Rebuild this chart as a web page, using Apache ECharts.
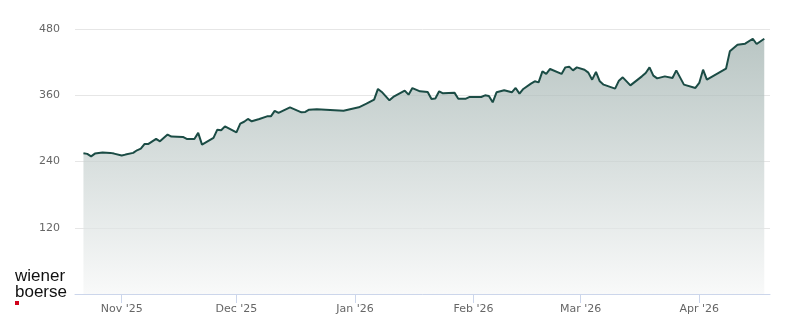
<!DOCTYPE html>
<html>
<head>
<meta charset="utf-8">
<script src="https://cdn.jsdelivr.net/npm/echarts@6/dist/echarts.min.js"></script>
<style>
html,body{margin:0;padding:0;background:#fff;}
#c{width:800px;height:324px;}
</style>
</head>
<body>
<div id="c"></div>
<script>
// ---- data ----
var dates = [
 '2025-10-22','2025-10-23','2025-10-24','2025-10-25','2025-10-27','2025-10-29','2025-10-30',
 '2025-11-01','2025-11-02','2025-11-04','2025-11-05','2025-11-06','2025-11-07','2025-11-08',
 '2025-11-10','2025-11-11','2025-11-13','2025-11-14','2025-11-17','2025-11-18','2025-11-20',
 '2025-11-21','2025-11-22','2025-11-25','2025-11-26','2025-11-27','2025-11-28',
 '2025-12-01','2025-12-02','2025-12-03','2025-12-04','2025-12-05','2025-12-07','2025-12-09',
 '2025-12-10','2025-12-11','2025-12-12','2025-12-15','2025-12-18','2025-12-19','2025-12-20',
 '2025-12-22','2025-12-29','2025-12-31',
 '2026-01-02','2026-01-04','2026-01-06','2026-01-07','2026-01-08','2026-01-10','2026-01-11',
 '2026-01-14','2026-01-15','2026-01-16','2026-01-18','2026-01-20','2026-01-21','2026-01-22',
 '2026-01-23','2026-01-24','2026-01-27','2026-01-28','2026-01-30','2026-01-31',
 '2026-02-03','2026-02-04','2026-02-05','2026-02-06','2026-02-07','2026-02-09','2026-02-11',
 '2026-02-12','2026-02-13','2026-02-14','2026-02-16','2026-02-17','2026-02-18','2026-02-19',
 '2026-02-20','2026-02-21','2026-02-24','2026-02-25','2026-02-26','2026-02-27','2026-02-28',
 '2026-03-02','2026-03-03','2026-03-04','2026-03-05','2026-03-06','2026-03-07','2026-03-10',
 '2026-03-11','2026-03-12','2026-03-14','2026-03-17','2026-03-18','2026-03-19','2026-03-20',
 '2026-03-21','2026-03-23','2026-03-25','2026-03-26','2026-03-28','2026-03-31',
 '2026-04-01','2026-04-02','2026-04-03','2026-04-08','2026-04-09','2026-04-10','2026-04-11',
 '2026-04-13','2026-04-15','2026-04-16','2026-04-18'
];
var values = [
 254.8,253.8,249.4,254.3,256.5,255.6,254.3,
 250.7,252.5,255.6,260.3,263.3,271.9,271.9,
 280.9,276.6,288.7,285.1,284.5,280.9,280.9,
 291.8,270.6,282.7,297.7,296.5,303.7,
 292.9,308.6,312.0,317.1,312.8,317.1,321.8,
 321.8,331.6,328.0,338.1,329.0,329.8,333.9,
 334.5,332.1,335.2,
 338.1,344.8,352.0,371.4,366.0,350.8,356.9,
 368.3,361.1,373.0,367.1,366.0,353.3,354.0,
 367.1,363.4,364.7,353.8,353.8,356.9,
 356.9,359.8,358.7,347.2,365.3,368.9,365.3,
 373.2,362.9,371.4,381.0,385.2,383.3,403.3,
 398.6,407.6,398.6,410.5,411.8,405.1,410.5,
 406.3,401.0,388.2,402.2,385.2,379.2,371.9,
 386.4,392.4,377.9,394.2,400.4,410.5,395.5,
 390.6,394.2,391.3,405.1,379.2,373.2,
 382.3,406.3,388.2,408.1,439.5,445.6,451.6,
 453.4,462.4,452.8,462.4
];
var yTicks = [0, 120, 240, 360, 480];
var monthStarts = ['2025-11-01','2025-12-01','2026-01-01','2026-02-01','2026-03-01','2026-04-01'];
var monthLabels = ["Nov '25","Dec '25","Jan '26","Feb '26","Mar '26","Apr '26"];
var xRange = ['2025-10-19T19:00:00','2026-04-19T12:00:00'];

// ---- build ----
function ts(s){ return new Date(s.length === 10 ? s + 'T00:00:00' : s).getTime(); }
var seriesData = dates.map(function(d, i){ return [ts(d), values[i]]; });
var monthTs = monthStarts.map(ts);

var chart = echarts.init(document.getElementById('c'), null, {renderer: 'canvas'});
chart.setOption({
  animation: false,
  backgroundColor: '#ffffff',
  grid: {left: 75, right: 30, top: 29, bottom: 30, containLabel: false},
  xAxis: {
    type: 'value',
    min: ts(xRange[0]),
    max: ts(xRange[1]),
    axisLine: {show: true, lineStyle: {color: '#ccd6eb', width: 1}},
    axisTick: {show: true, length: 9, lineStyle: {color: '#ccd6eb'}, customValues: monthTs},
    axisLabel: {
      customValues: monthTs,
      color: '#666666', fontSize: 11, fontFamily: 'DejaVu Sans', margin: 10,
      formatter: function(v){
        var i = monthTs.indexOf(v);
        return i >= 0 ? monthLabels[i] : '';
      }
    },
    splitLine: {show: false}
  },
  yAxis: {
    type: 'value',
    min: yTicks[0], max: yTicks[yTicks.length - 1], interval: 120,
    axisLine: {show: false},
    axisTick: {show: false},
    axisLabel: {showMinLabel: false, color: '#666666', fontSize: 11, fontFamily: 'DejaVu Sans', margin: 15},
    splitLine: {show: true, lineStyle: {color: '#e6e6e6', width: 1}}
  },
  series: [{
    type: 'line',
    data: seriesData,
    showSymbol: false,
    symbol: 'none',
    lineStyle: {color: '#1b4c45', width: 2},
    areaStyle: {
      color: new echarts.graphic.LinearGradient(0, 0, 0, 1, [
        {offset: 0, color: '#9caeab'},
        {offset: 1, color: '#f6f7f7'}
      ])
    }
  }],
  graphic: [
    {type: 'text', left: 15, top: 268, style: {text: 'wiener', fontSize: 17, fontFamily: 'Liberation Sans', fill: '#111111'}},
    {type: 'text', left: 15, top: 284, style: {text: 'boerse', fontSize: 17, fontFamily: 'Liberation Sans', fill: '#111111'}},
    {type: 'rect', left: 15, top: 301, shape: {width: 4, height: 4}, style: {fill: '#d0021b'}}
  ]
});
</script>
</body>
</html>
